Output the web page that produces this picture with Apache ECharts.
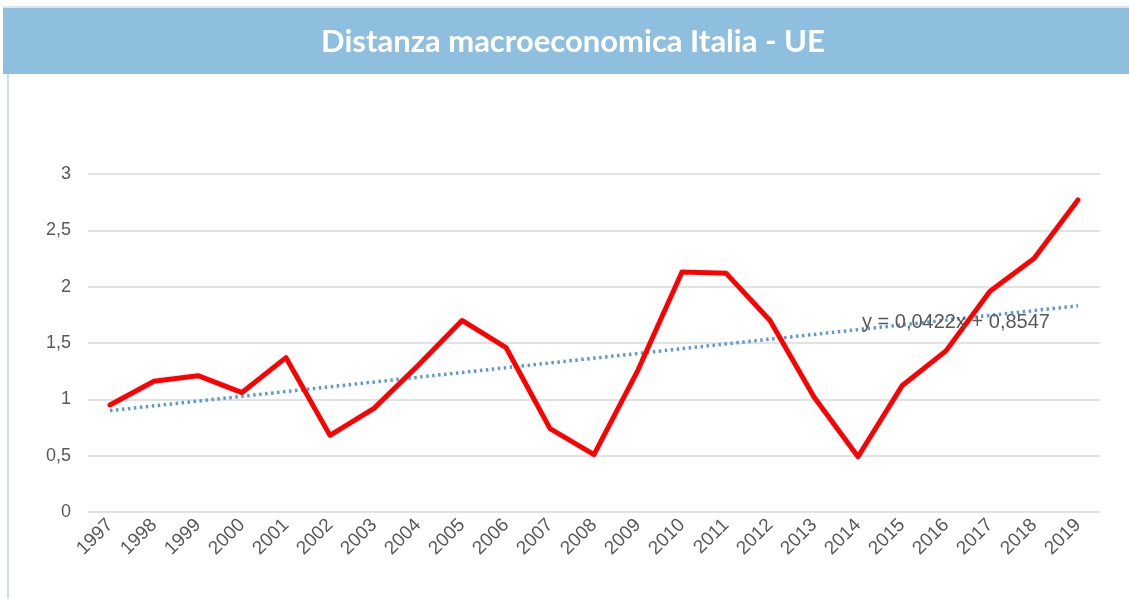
<!DOCTYPE html>
<html>
<head>
<meta charset="utf-8">
<script src="https://cdn.jsdelivr.net/npm/echarts@6/dist/echarts.min.js"></script>
<style>
  html, body { margin: 0; padding: 0; background: #fff; }
  .chart { width: 1129px; height: 599px; }
</style>
</head>
<body>
<div class="chart"></div>
<script>
// dati
const years = ["1997", "1998", "1999", "2000", "2001", "2002", "2003", "2004", "2005", "2006", "2007", "2008",
  "2009", "2010", "2011", "2012", "2013", "2014", "2015", "2016", "2017", "2018", "2019"];
const distanza = [0.95, 1.16, 1.21, 1.06, 1.37, 0.68, 0.92, 1.30, 1.70, 1.46, 0.74, 0.51,
  1.26, 2.13, 2.12, 1.70, 1.02, 0.49, 1.12, 1.43, 1.96, 2.25, 2.77];
// linea di tendenza: estremi
const trendEnds = [[0, 0.90], [22, 1.83]];
const trendLabel = "y = 0,0422x + 0,8547";
const yTicks = [0, 0.5, 1, 1.5, 2, 2.5, 3];

function setLine() {
  let myChart = echarts.init(document.querySelector(".chart"));
  let option = {
    animation: false,
    textStyle: { fontFamily: "Liberation Sans, Arial, sans-serif" },
    grid: {
      top: 174,
      bottom: 87,
      left: 88,
      right: 29,
    },
    graphic: [
      // barra del titolo
      {
        type: "rect",
        shape: { x: 3, y: 8, width: 1126, height: 66 },
        style: { fill: "#8fbfdf" },
        z: -1,
      },
      {
        type: "rect",
        shape: { x: 3, y: 6, width: 1126, height: 2 },
        style: { fill: "#d6e8f4" },
      },
      {
        type: "rect",
        shape: { x: 7, y: 74, width: 2, height: 525 },
        style: { fill: "#c5e0f0" },
      },
      {
        type: "text",
        x: 573,
        y: 42,
        style: {
          text: "Distanza macroeconomica Italia - UE",
          fill: "#ffffff",
          font: "bold 31px Lato, sans-serif",
          align: "center",
          verticalAlign: "middle",
        },
      },
      // equazione della tendenza
      {
        type: "text",
        x: 862,
        y: 322,
        z: 10,
        style: {
          text: trendLabel,
          fill: "#595959",
          font: "20px Liberation Sans, Arial, sans-serif",
          verticalAlign: "middle",
        },
      },
    ],
    xAxis: {
      type: "category",
      data: years,
      boundaryGap: true,
      axisLine: { show: false },
      axisTick: { show: false },
      axisLabel: {
        rotate: 45,
        color: "#595959",
        fontSize: 19,
        margin: 10,
        interval: 0,
      },
    },
    yAxis: {
      type: "value",
      min: yTicks[0],
      max: yTicks[yTicks.length - 1],
      interval: 0.5,
      axisLine: { show: false },
      axisTick: { show: false },
      axisLabel: {
        color: "#595959",
        fontSize: 18,
        margin: 17,
        formatter: function (v) {
          return String(v).replace(".", ",");
        },
      },
      splitLine: { lineStyle: { color: "#d9d9d9", width: 1.5 } },
    },
    series: [
      {
        name: "Tendenza",
        type: "line",
        data: trendEnds,
        symbol: "none",
        lineStyle: { color: "#5b9bd5", width: 3.5, type: [2.5, 3.5] },
        z: 2,
      },
      {
        name: "Distanza",
        type: "line",
        data: distanza,
        symbol: "none",
        lineStyle: { color: "#ff0000", width: 5, join: "round", cap: "round" },
        z: 3,
      },
    ],
  };
  myChart.setOption(option);
}
setLine();
</script>
</body>
</html>
